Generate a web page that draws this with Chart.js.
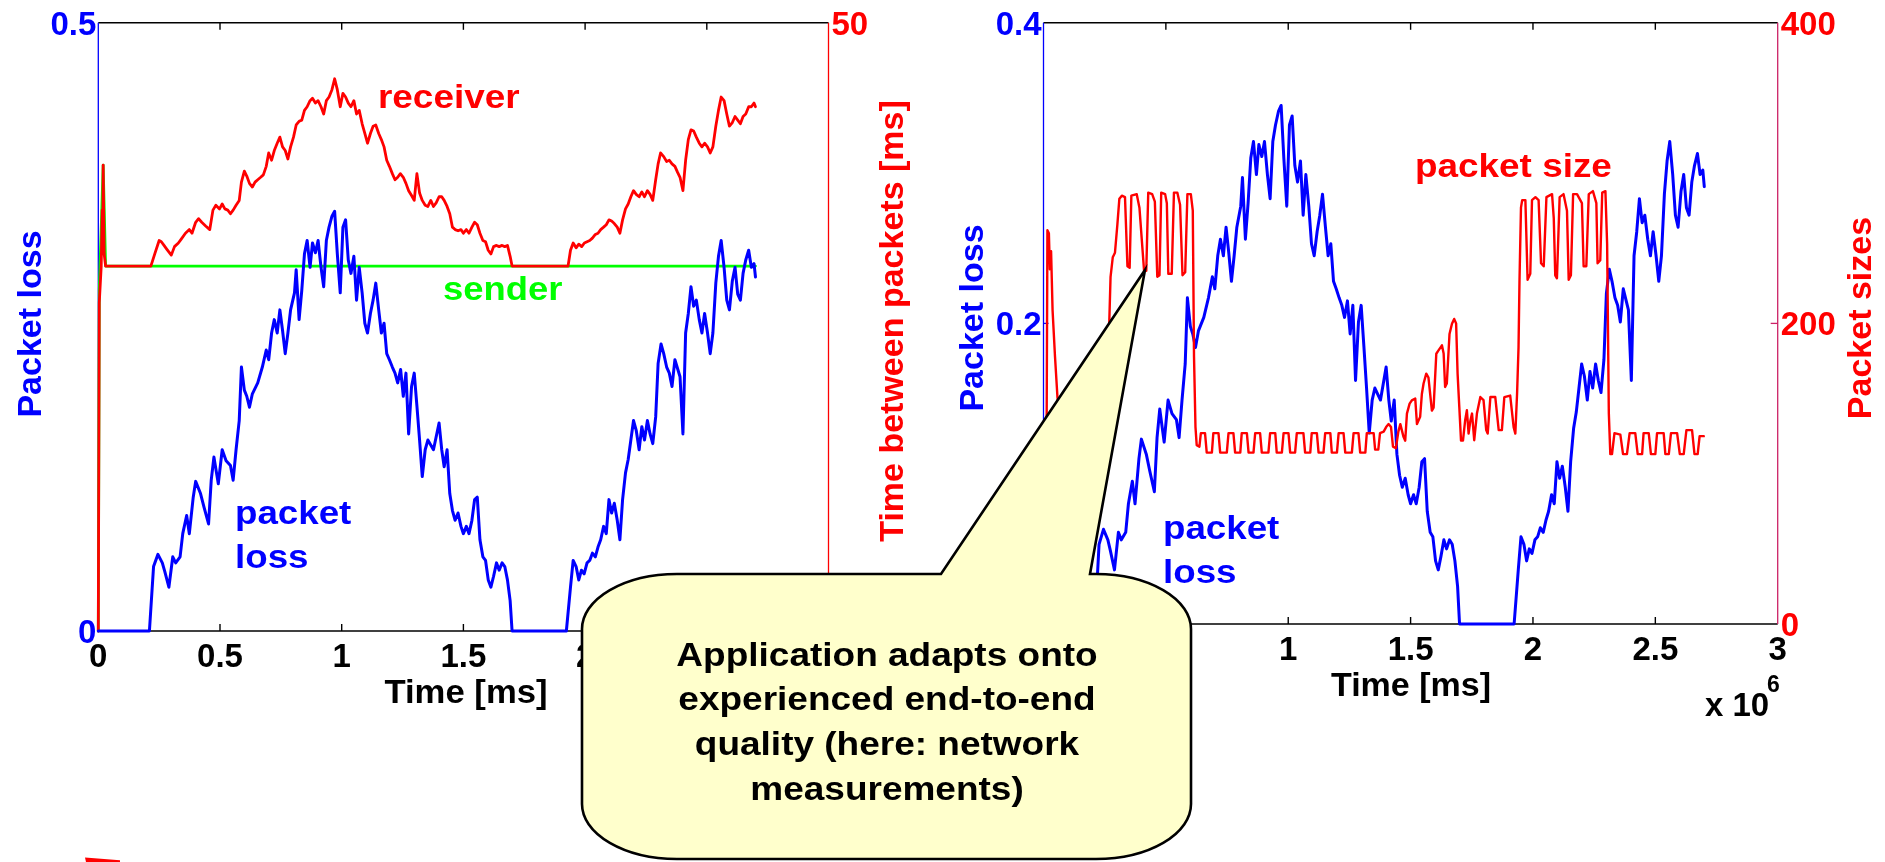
<!DOCTYPE html>
<html><head><meta charset="utf-8">
<script src="https://cdn.jsdelivr.net/npm/chart.js@4.4.1/dist/chart.umd.min.js"></script>
<style>
html,body{margin:0;padding:0;background:#fff;width:1885px;height:862px;overflow:hidden}
.layer{position:absolute;left:0;top:0;width:1885px;height:862px}
canvas{display:block}
</style></head><body>
<div class="layer"><canvas id="c1" width="1885" height="862"></canvas></div>
<div class="layer"><canvas id="c2" width="1885" height="862"></canvas></div>
<script>
// ---------- data (time in units of 10^6) ----------
const xTicks = [0, 0.5, 1, 1.5, 2, 2.5, 3];
const lossTicksLeft = [0, 0.5];
const gapTicksRight = [0, 50];
const lossTicksRight = [0, 0.2, 0.4];
const sizeTicks = [0, 200, 400];

const lossT = [0,0.21,0.227,0.245,0.263,0.273,0.29,0.306,0.318,0.336,0.347,0.363,0.374,0.39,0.40,0.42,0.434,0.453,0.464,0.475,0.493,0.509,0.525,0.543,0.554,0.566,0.579,0.588,0.6,0.61,0.621,0.633,0.655,0.674,0.69,0.70,0.712,0.723,0.735,0.746,0.757,0.768,0.779,0.79,0.806,0.813,0.825,0.836,0.847,0.858,0.87,0.88,0.892,0.903,0.915,0.926,0.937,0.948,0.96,0.971,0.982,0.994,1.005,1.016,1.027,1.038,1.05,1.061,1.072,1.084,1.095,1.106,1.118,1.129,1.14,1.152,1.163,1.174,1.185,1.196,1.208,1.219,1.23,1.242,1.253,1.264,1.275,1.287,1.298,1.309,1.32,1.331,1.343,1.354,1.377,1.40,1.411,1.421,1.433,1.444,1.455,1.466,1.478,1.49,1.50,1.512,1.523,1.535,1.546,1.557,1.568,1.58,1.591,1.602,1.613,1.624,1.636,1.647,1.659,1.67,1.681,1.692,1.70,1.923,1.94,1.951,1.963,1.974,1.985,1.996,2.008,2.019,2.03,2.042,2.053,2.064,2.076,2.087,2.098,2.109,2.12,2.132,2.143,2.154,2.166,2.177,2.188,2.199,2.21,2.222,2.233,2.244,2.256,2.267,2.278,2.29,2.30,2.312,2.323,2.335,2.346,2.357,2.369,2.39,2.402,2.413,2.424,2.435,2.446,2.457,2.469,2.48,2.491,2.503,2.514,2.525,2.537,2.548,2.559,2.571,2.582,2.593,2.605,2.616,2.627,2.638,2.649,2.66,2.672,2.683,2.694,2.70];
const lossV = [0,0,0.053,0.063,0.056,0.049,0.036,0.061,0.056,0.061,0.080,0.095,0.080,0.110,0.123,0.113,0.102,0.088,0.124,0.143,0.121,0.149,0.140,0.136,0.124,0.149,0.173,0.217,0.198,0.193,0.184,0.195,0.204,0.217,0.231,0.223,0.245,0.256,0.245,0.264,0.247,0.228,0.245,0.264,0.278,0.297,0.256,0.280,0.310,0.321,0.299,0.319,0.311,0.321,0.299,0.283,0.321,0.332,0.341,0.345,0.310,0.278,0.332,0.338,0.305,0.294,0.308,0.272,0.299,0.278,0.253,0.245,0.261,0.272,0.286,0.264,0.245,0.253,0.228,0.223,0.217,0.212,0.204,0.215,0.193,0.212,0.162,0.201,0.212,0.185,0.157,0.127,0.149,0.157,0.149,0.171,0.149,0.135,0.149,0.113,0.099,0.091,0.097,0.086,0.080,0.086,0.080,0.091,0.108,0.110,0.075,0.061,0.058,0.042,0.036,0.045,0.056,0.050,0.056,0.053,0.042,0.025,0,0,0.036,0.058,0.053,0.042,0.050,0.047,0.056,0.058,0.064,0.061,0.069,0.075,0.086,0.080,0.108,0.097,0.105,0.091,0.075,0.108,0.130,0.141,0.157,0.173,0.165,0.149,0.168,0.157,0.173,0.162,0.154,0.176,0.220,0.236,0.228,0.217,0.212,0.201,0.223,0.209,0.162,0.245,0.261,0.283,0.267,0.272,0.256,0.245,0.261,0.245,0.228,0.245,0.286,0.308,0.321,0.299,0.272,0.264,0.288,0.299,0.277,0.272,0.294,0.305,0.313,0.299,0.302,0.291];

const recvT = [0,0.004,0.012,0.016,0.018,0.02,0.024,0.03,0.216,0.232,0.25,0.259,0.27,0.281,0.3,0.313,0.329,0.34,0.358,0.374,0.385,0.40,0.412,0.425,0.441,0.458,0.471,0.483,0.498,0.509,0.52,0.532,0.543,0.554,0.566,0.579,0.588,0.6,0.61,0.621,0.633,0.644,0.655,0.667,0.678,0.69,0.70,0.712,0.723,0.735,0.746,0.757,0.768,0.779,0.79,0.802,0.813,0.825,0.836,0.847,0.858,0.87,0.88,0.892,0.903,0.915,0.926,0.937,0.948,0.96,0.971,0.982,0.994,1.005,1.016,1.027,1.038,1.05,1.061,1.072,1.084,1.095,1.106,1.118,1.129,1.14,1.152,1.163,1.174,1.185,1.196,1.208,1.219,1.23,1.241,1.253,1.264,1.275,1.287,1.298,1.309,1.32,1.331,1.343,1.354,1.366,1.377,1.388,1.40,1.411,1.421,1.433,1.444,1.455,1.466,1.478,1.49,1.50,1.512,1.523,1.535,1.546,1.557,1.568,1.58,1.591,1.602,1.613,1.624,1.636,1.647,1.659,1.67,1.681,1.692,1.70,1.93,1.94,1.951,1.963,1.974,1.986,1.997,2.008,2.019,2.03,2.042,2.053,2.064,2.076,2.087,2.098,2.109,2.12,2.132,2.143,2.154,2.166,2.177,2.188,2.199,2.21,2.222,2.233,2.244,2.256,2.267,2.278,2.29,2.30,2.31,2.323,2.335,2.346,2.357,2.369,2.38,2.39,2.402,2.413,2.424,2.435,2.446,2.457,2.469,2.48,2.491,2.503,2.514,2.525,2.537,2.548,2.559,2.571,2.582,2.593,2.605,2.616,2.627,2.638,2.649,2.66,2.672,2.683,2.694,2.70];
const recvV = [0,27,30,34.6,31,38.3,31,30,30,31.0,32.1,32.0,31.7,31.4,30.9,31.6,31.9,32.2,32.7,33.0,32.7,33.6,33.9,33.6,33.3,33.0,34.6,35.0,34.7,35.1,34.7,34.6,34.3,34.6,35.0,35.4,36.9,37.8,37.4,36.8,36.5,36.9,37.1,37.3,37.5,38.2,39.3,38.7,39.5,40.1,40.6,39.8,39.5,38.8,39.8,40.6,41.6,41.9,42.0,42.8,43.1,43.6,43.8,43.4,43.6,43.1,42.5,43.6,43.9,44.5,45.4,44.5,43.1,44.2,43.9,43.4,43.1,43.6,42.5,42.8,41.7,40.9,40.1,40.9,41.5,41.6,40.9,40.4,39.8,38.7,38.2,37.6,37.1,37.3,37.6,37.3,36.8,36.2,35.8,35.4,37.6,36.0,35.4,35.0,34.9,35.4,34.9,35.2,35.7,35.7,35.4,34.9,34.3,33.2,33.0,32.9,33.0,32.7,33.0,32.7,33.2,33.6,33.4,32.7,32.1,32.0,31.3,31.0,31.6,31.7,31.6,31.7,31.6,31.7,30.8,30.0,30.0,31.3,31.9,31.5,31.8,31.6,31.9,32.0,32.1,32.3,32.6,32.7,33.0,33.2,33.4,33.8,33.7,33.5,33.2,32.7,33.8,34.7,35.1,35.7,36.2,35.9,35.7,36.1,35.7,36.2,35.9,35.4,37.1,38.4,39.3,39.0,38.6,38.7,38.4,38.2,37.7,37.3,36.2,38.7,40.4,41.2,41.1,40.6,40.1,39.8,40.1,39.8,39.3,39.8,41.5,42.8,43.9,43.6,42.5,41.5,41.8,42.3,42.0,41.7,42.3,42.5,43.1,43.1,43.4,43.1];

const sendT = [0,0.004,0.02,0.03,2.70];
const sendV = [0,28,38.3,30,30];

const sizeT = [0,0.01,0.013,0.016,0.022,0.026,0.031,0.037,0.047,0.057,0.07,0.1,0.15,0.2,0.25,0.262,0.269,0.274,0.283,0.292,0.302,0.31,0.32,0.333,0.343,0.352,0.359,0.381,0.392,0.411,0.42,0.428,0.444,0.455,0.465,0.474,0.481,0.497,0.504,0.51,0.524,0.533,0.547,0.558,0.568,0.579,0.588,0.602,0.61,0.615,0.621,0.626,0.637,0.643,0.66,0.667,0.688,0.694,0.715,0.722,0.749,0.756,0.776,0.783,0.804,0.81,0.831,0.838,0.858,0.865,0.885,0.892,0.919,0.926,0.947,0.953,0.974,0.981,1.001,1.008,1.028,1.035,1.062,1.069,1.09,1.096,1.117,1.124,1.144,1.151,1.172,1.178,1.199,1.206,1.226,1.233,1.26,1.267,1.287,1.294,1.315,1.321,1.349,1.355,1.368,1.375,1.39,1.40,1.41,1.42,1.428,1.44,1.45,1.458,1.471,1.478,1.485,1.496,1.505,1.519,1.526,1.539,1.546,1.553,1.564,1.573,1.587,1.594,1.605,1.614,1.628,1.635,1.641,1.648,1.659,1.669,1.678,1.686,1.692,1.699,1.706,1.714,1.723,1.73,1.737,1.744,1.751,1.76,1.771,1.785,1.798,1.809,1.815,1.826,1.846,1.86,1.873,1.883,1.907,1.921,1.928,1.935,1.941,1.945,1.951,1.956,1.969,1.978,1.989,1.996,2.01,2.023,2.033,2.044,2.055,2.078,2.085,2.091,2.098,2.109,2.125,2.139,2.146,2.155,2.164,2.18,2.2,2.207,2.218,2.228,2.245,2.259,2.264,2.275,2.283,2.296,2.303,2.31,2.316,2.323,2.333,2.357,2.368,2.384,2.395,2.418,2.428,2.446,2.452,2.473,2.482,2.5,2.507,2.534,2.541,2.555,2.564,2.589,2.6,2.616,2.627,2.65,2.66,2.673,2.681,2.698];
const sizeV = [0,130,140,262,260,236,248,209,178,151,130,120,122,120,135,180,202,231,244,247,266,283,285,284,238,237,285,286,277,235,235,287,286,281,231,232,287,286,280,233,233,287,287,279,232,234,286,286,275,178,131,119,118,127,127,114,114,127,127,114,114,127,127,114,114,127,127,114,114,127,127,114,114,127,127,114,114,127,127,114,114,127,127,114,114,127,127,114,114,127,127,114,114,127,127,114,114,127,127,114,114,127,127,116,116,127,128,131,133,131,118,117,128,133,124.5,122,140,146.6,148.8,150,133,137.8,153,160,166.6,164,142,144,179.8,182,185.4,180,157.7,160,193,199.8,203,200,166.6,144.4,122,122,135.6,142.2,126.7,135,140,122.3,140,151,149,129,126.7,151,151,129,129,151,152,131,126.7,153,184,229,277,282,282,229,233,282,284,282,240,238,284,286,270,232,230,284,286,275,229,232,286,286,280,238,238,286,288,280,240,242,287,288,253,140,113,113,127,126,113,113,127,127,113,113,127,127,113,113,127,127,113,113,127,127,113,113,129,129,113,113,125,125];

// ---------- helpers ----------
const FONT = "'Liberation Sans', Arial, Helvetica, sans-serif";
const BLUE = '#0000ff', RED = '#ff0000', GREEN = '#00ff00';
const pts = (t, v) => t.map((x, i) => ({x: x, y: v[i]}));
const tickObjs = arr => arr.map(v => ({value: v}));

function seg(ctx, x1, y1, x2, y2) { ctx.beginPath(); ctx.moveTo(x1, y1); ctx.lineTo(x2, y2); ctx.stroke(); }

function drawFrame(chart, leftColor, rightColor, lTick, rTick) {
  const {ctx, chartArea: a, scales} = chart;
  ctx.save();
  ctx.lineWidth = 1.4;
  ctx.lineCap = 'butt';
  ctx.strokeStyle = '#000';
  seg(ctx, a.left, a.top, a.right, a.top);
  seg(ctx, a.left, a.bottom, a.right, a.bottom);
  scales.x.ticks.forEach(t => {
    const px = scales.x.getPixelForValue(t.value);
    if (px <= a.left + 1 || px >= a.right - 1) return;
    seg(ctx, px, a.bottom, px, a.bottom - 7);
    seg(ctx, px, a.top, px, a.top + 7);
  });
  ctx.lineWidth = 1.3;
  ctx.strokeStyle = leftColor;
  seg(ctx, a.left, a.top, a.left, a.bottom);
  scales.yL.ticks.forEach(t => {
    const py = scales.yL.getPixelForValue(t.value);
    if (py <= a.top + 1 || py >= a.bottom - 1) return;
    seg(ctx, a.left, py, a.left + lTick, py);
  });
  ctx.strokeStyle = rightColor;
  seg(ctx, a.right, a.top, a.right, a.bottom);
  scales.yR.ticks.forEach(t => {
    const py = scales.yR.getPixelForValue(t.value);
    if (py <= a.top + 1 || py >= a.bottom - 1) return;
    seg(ctx, a.right, py, a.right - rTick, py);
  });
  ctx.restore();
}

function text(ctx, s, x, y, color, size, align, sx) {
  ctx.save();
  ctx.font = 'bold ' + size + 'px ' + FONT;
  ctx.fillStyle = color;
  ctx.textAlign = align || 'left';
  ctx.textBaseline = 'alphabetic';
  ctx.translate(x, y);
  ctx.scale(sx || 1, 1);
  ctx.fillText(s, 0, 0);
  ctx.restore();
}
function vtext(ctx, s, baseX, centerY, color, size) {
  ctx.save();
  ctx.font = 'bold ' + size + 'px ' + FONT;
  ctx.fillStyle = color;
  ctx.textAlign = 'center';
  ctx.textBaseline = 'alphabetic';
  ctx.translate(baseX, centerY);
  ctx.rotate(-Math.PI / 2);
  ctx.fillText(s, 0, 0);
  ctx.restore();
}

function drawBubble(ctx) {
  const L = 582, R = 1191, T = 574, B = 859, rx = 95, ry = 55;
  const pL = 941, pR = 1090, tipX = 1145, tipY = 270;
  ctx.save();
  ctx.beginPath();
  ctx.moveTo(L + rx, T);
  ctx.lineTo(pL, T);
  ctx.lineTo(tipX, tipY);
  ctx.lineTo(pR, T);
  ctx.lineTo(R - rx, T);
  ctx.ellipse(R - rx, T + ry, rx, ry, 0, -Math.PI / 2, 0);
  ctx.lineTo(R, B - ry);
  ctx.ellipse(R - rx, B - ry, rx, ry, 0, 0, Math.PI / 2);
  ctx.lineTo(L + rx, B);
  ctx.ellipse(L + rx, B - ry, rx, ry, 0, Math.PI / 2, Math.PI);
  ctx.lineTo(L, T + ry);
  ctx.ellipse(L + rx, T + ry, rx, ry, 0, Math.PI, 1.5 * Math.PI);
  ctx.closePath();
  ctx.fillStyle = '#ffffcc';
  ctx.fill();
  ctx.lineWidth = 2.6;
  ctx.lineJoin = 'miter';
  ctx.strokeStyle = '#000';
  ctx.stroke();
  ctx.restore();
  const lines = ['Application adapts onto', 'experienced end-to-end', 'quality (here: network', 'measurements)'];
  const bases = [666, 710, 755, 800];
  lines.forEach((l, i) => text(ctx, l, 887, bases[i], '#000', 34, 'center', 1.088));
  // red arrow fragment at the lower-left edge
  ctx.save();
  ctx.beginPath();
  ctx.moveTo(85, 857.5); ctx.lineTo(120, 860.3); ctx.lineTo(120, 862); ctx.lineTo(86, 862);
  ctx.closePath();
  ctx.fillStyle = RED; ctx.fill();
  ctx.restore();
}

const tickFont = {family: FONT, size: 33, weight: 'bold'};
function xScale() {
  return {type: 'linear', position: 'bottom', min: 0, max: 3,
    afterFit: s => { s.height = 60; },
    afterBuildTicks: s => { s.ticks = tickObjs(xTicks); },
    grid: {display: false, drawTicks: false}, border: {display: false},
    ticks: {autoSkip: false, maxRotation: 0, padding: 7.5, color: '#000', font: tickFont, callback: v => String(v)}};
}
function yScale(pos, min, max, width, ticks, color, pad) {
  return {type: 'linear', position: pos, min: min, max: max,
    afterFit: s => { s.width = width; },
    afterBuildTicks: s => { s.ticks = tickObjs(ticks); },
    grid: {display: false, drawTicks: false}, border: {display: false},
    ticks: {padding: pad, labelOffset: 3, color: color, font: tickFont, callback: v => String(v)}};
}
const base = {responsive: false, animation: false, devicePixelRatio: 1, events: [],
  plugins: {legend: {display: false}, tooltip: {enabled: false}},
  elements: {point: {radius: 0}, line: {tension: 0, borderJoinStyle: 'round', borderCapStyle: 'round'}}};

// ---------- left chart ----------
new Chart(document.getElementById('c1'), {
  type: 'line',
  data: {datasets: [
    {label: 'packet loss', data: pts(lossT, lossV), yAxisID: 'yL', borderColor: BLUE, borderWidth: 3, order: 1, clip: false},
    {label: 'receiver', data: pts(recvT, recvV), yAxisID: 'yR', borderColor: RED, borderWidth: 2.8, order: 2, clip: false},
    {label: 'sender', data: pts(sendT, sendV), yAxisID: 'yR', borderColor: GREEN, borderWidth: 2.8, order: 3, clip: false}
  ]},
  options: Object.assign({}, base, {
    layout: {padding: {left: 0, right: 996.5, top: 22.7, bottom: 171}},
    scales: {x: xScale(), yL: yScale('left', 0, 0.5, 98.3, lossTicksLeft, BLUE, 2), yR: yScale('right', 0, 50, 60, gapTicksRight, RED, 3)}
  }),
  plugins: [{id: 'deco1',
    beforeDatasetsDraw(chart) { drawFrame(chart, BLUE, RED, 5, 7); },
    afterDatasetsDraw(chart) {
      const ctx = chart.ctx;
      vtext(ctx, 'Packet loss', 41, 324, BLUE, 34);
      vtext(ctx, 'Time between packets [ms]', 903, 321, RED, 34);
      text(ctx, 'Time [ms]', 466, 703, '#000', 34, 'center', 1.02);
      text(ctx, 'receiver', 378, 108, RED, 34, 'left', 1.085);
      text(ctx, 'sender', 443, 300, GREEN, 34, 'left', 1.07);
      text(ctx, 'packet', 235, 524, BLUE, 34, 'left', 1.08);
      text(ctx, 'loss', 235, 568, BLUE, 34, 'left', 1.08);
    }}]
});

// ---------- right chart ----------
new Chart(document.getElementById('c2'), {
  type: 'line',
  data: {datasets: [
    {label: 'packet size', data: pts(sizeT, sizeV), yAxisID: 'yR', borderColor: RED, borderWidth: 2.4, order: 1, clip: false},
    {label: 'packet loss', data: pts(lossT, lossV), yAxisID: 'yL', borderColor: BLUE, borderWidth: 3, order: 2, clip: false}
  ]},
  options: Object.assign({}, base, {
    layout: {padding: {left: 943.5, right: 27.3, top: 22, bottom: 178}},
    scales: {x: xScale(), yL: yScale('left', 0, 0.4, 100, lossTicksRight, BLUE, 2), yR: yScale('right', 0, 400, 80, sizeTicks, RED, 3)}
  }),
  plugins: [{id: 'deco2',
    beforeDatasetsDraw(chart) { drawFrame(chart, BLUE, '#cc2266', 5, 7); },
    afterDatasetsDraw(chart) {
      const ctx = chart.ctx;
      vtext(ctx, 'Packet loss', 983, 318, BLUE, 34);
      vtext(ctx, 'Packet sizes', 1871, 318, RED, 34);
      text(ctx, 'Time [ms]', 1411, 696, '#000', 34, 'center', 1.0);
      text(ctx, 'x 10', 1705, 716, '#000', 33, 'left', 1);
      text(ctx, '6', 1767, 692, '#000', 23, 'left', 1);
      text(ctx, 'packet size', 1415, 177, RED, 34, 'left', 1.085);
      text(ctx, 'packet', 1163, 539, BLUE, 34, 'left', 1.08);
      text(ctx, 'loss', 1163, 583, BLUE, 34, 'left', 1.08);
    },
    afterDraw(chart) { drawBubble(chart.ctx); }}]
});
</script></body></html>
